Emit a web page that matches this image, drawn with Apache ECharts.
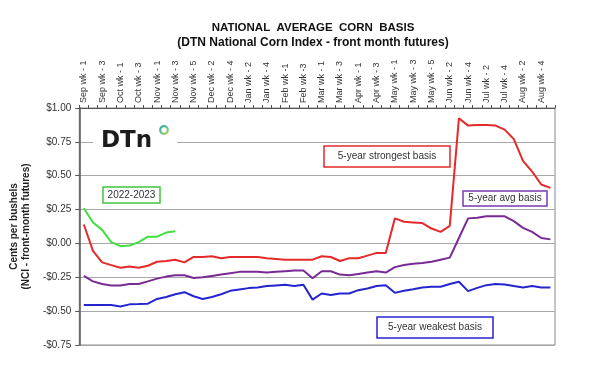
<!DOCTYPE html>
<html><head><meta charset="utf-8">
<script src="https://cdn.jsdelivr.net/npm/echarts@6/dist/echarts.min.js"></script>
<style>html,body{margin:0;padding:0;background:#fff}#c{width:600px;height:368px}</style>
</head><body><div id="c"></div>
<script>
const weeks = [
  'Sep wk - 1','Sep wk - 2','Sep wk - 3','Sep wk - 4',
  'Oct wk - 1','Oct wk - 2','Oct wk - 3','Oct wk - 4',
  'Nov wk - 1','Nov wk - 2','Nov wk - 3','Nov wk - 4','Nov wk - 5',
  'Dec wk - 1','Dec wk - 2','Dec wk - 3','Dec wk - 4',
  'Jan wk - 1','Jan wk - 2','Jan wk - 3','Jan wk - 4','Jan wk - 5',
  'Feb wk -1','Feb wk -2','Feb wk -3','Feb wk -4',
  'Mar wk - 1','Mar wk - 2','Mar wk - 3','Mar wk - 4',
  'Apr wk - 1','Apr wk - 2','Apr wk - 3','Apr wk - 4',
  'May wk - 1','May wk - 2','May wk - 3','May wk - 4','May wk - 5',
  'Jun wk - 1','Jun wk - 2','Jun wk - 3','Jun wk - 4',
  'Jul wk - 1','Jul wk - 2','Jul wk - 3','Jul wk - 4',
  'Aug wk - 1','Aug wk - 2','Aug wk - 3','Aug wk - 4','Aug wk - 5'
];
const strongest = [0.14,-0.055,-0.14,-0.16,-0.18,-0.17,-0.18,-0.165,-0.135,-0.13,-0.12,-0.14,-0.10,
  -0.10,-0.095,-0.11,-0.10,-0.10,-0.10,-0.10,-0.11,-0.115,-0.12,-0.12,-0.12,-0.12,
  -0.095,-0.10,-0.13,-0.11,-0.11,-0.09,-0.07,-0.07,0.185,0.16,0.155,0.15,0.11,
  0.085,0.13,0.925,0.87,0.875,0.875,0.87,0.84,0.77,0.61,0.53,0.435,0.41];
const average = [-0.24,-0.28,-0.30,-0.31,-0.31,-0.30,-0.30,-0.28,-0.26,-0.245,-0.235,-0.235,-0.255,
  -0.25,-0.24,-0.23,-0.22,-0.21,-0.21,-0.21,-0.215,-0.21,-0.205,-0.20,-0.20,-0.2575,
  -0.205,-0.205,-0.23,-0.235,-0.225,-0.215,-0.205,-0.215,-0.175,-0.16,-0.15,-0.145,-0.135,
  -0.12,-0.105,0.04,0.185,0.19,0.20,0.20,0.20,0.165,0.115,0.085,0.04,0.03];
const weakest = [-0.455,-0.455,-0.455,-0.455,-0.465,-0.45,-0.448,-0.445,-0.41,-0.395,-0.375,-0.36,-0.39,
  -0.41,-0.395,-0.375,-0.35,-0.34,-0.33,-0.325,-0.315,-0.31,-0.305,-0.315,-0.305,-0.415,
  -0.37,-0.38,-0.37,-0.37,-0.345,-0.333,-0.315,-0.308,-0.365,-0.35,-0.338,-0.325,-0.32,
  -0.32,-0.30,-0.283,-0.352,-0.328,-0.308,-0.30,-0.303,-0.315,-0.325,-0.315,-0.325,-0.325];
const current = [0.26,0.155,0.10,0.01,-0.02,-0.015,0.01,0.05,0.05,0.08,0.09];

const chart = echarts.init(document.getElementById('c'));
const font = '"Liberation Sans", Arial, sans-serif';
function line(name, data, color) {
  return { name, type: 'line', data, symbol: 'none', smooth: false,
    lineStyle: { color, width: 2 }, itemStyle: { color }, z: 5 };
}
function box(x, y, w, h, text, color) {
  return { type: 'group', z: 100, children: [
    { type: 'rect', shape: { x, y, width: w, height: h },
      style: { fill: '#fff', stroke: color, lineWidth: 1.5 } },
    { type: 'text', x: x + w / 2, y: y + h / 2,
      style: { text, fill: '#333', fontSize: 10, fontFamily: font, align: 'center', verticalAlign: 'middle' } }
  ]};
}
chart.setOption({
  animation: false,
  backgroundColor: '#fff',
  title: [
    { text: 'NATIONAL  AVERAGE  CORN  BASIS', left: 308, top: 17, textAlign: 'center',
      textStyle: { fontSize: 11.5, fontWeight: 'bold', color: '#111', fontFamily: font } },
    { text: '(DTN National Corn Index - front month futures)', left: 308, top: 32, textAlign: 'center',
      textStyle: { fontSize: 12, fontWeight: 'bold', color: '#111', fontFamily: font } }
  ],
  grid: { left: 79, right: 45, top: 108, bottom: 23, show: true, borderColor: '#8a8a8a', borderWidth: 1 },
  xAxis: {
    type: 'category', data: weeks, position: 'top', boundaryGap: true,
    axisLine: { onZero: false, lineStyle: { color: '#555', width: 1 } },
    axisTick: { show: true, interval: 0, length: 3, lineStyle: { color: '#555' } },
    axisLabel: { interval: 1, rotate: -90, fontSize: 9, color: '#333', fontFamily: font, margin: 5 },
    splitLine: { show: false }
  },
  yAxis: {
    type: 'value', min: -0.75, max: 1.0, interval: 0.25,
    name: 'Cents per bushels\n(NCI - front-month futures)',
    nameLocation: 'middle', nameGap: 42,
    nameTextStyle: { fontSize: 10, fontWeight: 'bold', color: '#222', fontFamily: font, lineHeight: 12 },
    axisLine: { show: true, lineStyle: { color: '#555', width: 1.5 } },
    axisTick: { show: true, length: 4, lineStyle: { color: '#555' } },
    axisLabel: { fontSize: 10, color: '#333', fontFamily: font, margin: 8,
      formatter: v => (v < 0 ? '-$' : '$') + Math.abs(v).toFixed(2) },
    splitLine: { show: true, lineStyle: { color: '#a8a8a8', width: 1 } }
  },
  series: [
    line('5-year strongest basis', strongest, '#e42a2a'),
    line('5-year avg basis', average, '#7a2a95'),
    line('5-year weakest basis', weakest, '#2525d0'),
    line('2022-2023', current, '#3fe03f')
  ],
  graphic: [
    { type: 'rect', z: 50, shape: { x: 93, y: 118, width: 84, height: 40 }, style: { fill: '#fff' } },
    { type: 'text', z: 60, x: 101, y: 141,
      style: { text: 'DTn', fill: '#1c1c1c', fontSize: 23, fontWeight: 'bold', fontFamily: '"DejaVu Sans", sans-serif', verticalAlign: 'middle' } },
    { type: 'circle', z: 60, shape: { cx: 164, cy: 130, r: 3.8 },
      style: { fill: '#fff', lineWidth: 2.2, stroke: new echarts.graphic.LinearGradient(0, 0, 1, 1, [
        { offset: 0, color: '#19a3c6' }, { offset: 1, color: '#b6d84a' }]) } },
    box(103, 187, 57, 16, '2022-2023', '#3fc83f'),
    box(324, 146, 126, 21, '5-year strongest basis', '#e42a2a'),
    box(463, 191, 84, 15, '5-year avg basis', '#7a3ab0'),
    box(377, 317, 116, 21, '5-year weakest basis', '#2525d0')
  ]
});
</script></body></html>
